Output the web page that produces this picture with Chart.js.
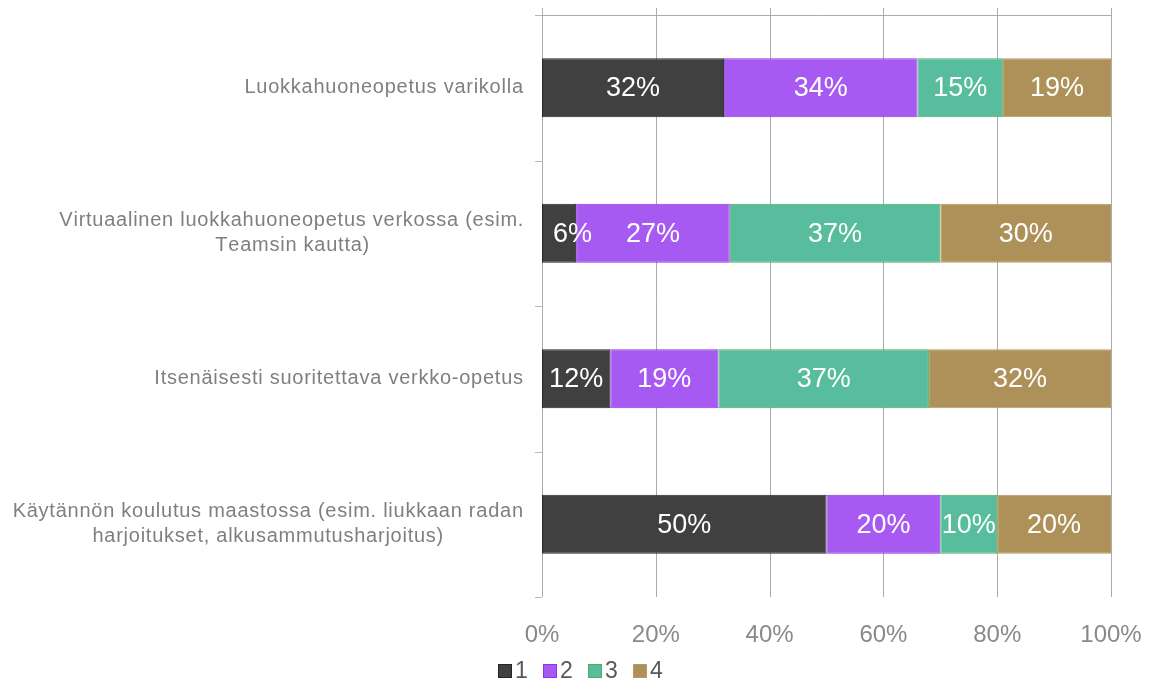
<!DOCTYPE html>
<html>
<head>
<meta charset="utf-8">
<script src="https://cdn.jsdelivr.net/npm/chart.js@4.4.1/dist/chart.umd.min.js"></script>
<style>
html,body{margin:0;padding:0;background:#fff;}
#wrap{width:1159px;height:682px;position:relative;}
</style>
</head>
<body>
<div id="wrap"><canvas id="c" width="1159" height="682"></canvas></div>
<script>
const categories = [
  ["Luokkahuoneopetus varikolla"],
  ["Virtuaalinen luokkahuoneopetus verkossa (esim.", "Teamsin kautta)"],
  ["Itsenäisesti suoritettava verkko-opetus"],
  ["Käytännön koulutus maastossa (esim. liukkaan radan", "harjoitukset, alkusammutusharjoitus)"]
];
const seriesNames = ["1", "2", "3", "4"];
const series1 = [32, 6, 12, 50];
const series2 = [34, 27, 19, 20];
const series3 = [15, 37, 37, 10];
const series4 = [19, 30, 32, 20];
const xTicks = [0, 20, 40, 60, 80, 100];

const fills = ["#404040", "#a65af2", "#57bd9c", "#ad9159"];
const borders = ["#262626", "#8e35e8", "#4caf5a", "#b89c62"];
const FONT = "'Liberation Sans', Arial, sans-serif";

const allSeries = [series1, series2, series3, series4];

const decor = {
  id: 'decor',
  beforeDatasetsDraw(chart) {
    const ctx = chart.ctx, xs = chart.scales.x, a = chart.chartArea;
    ctx.save();
    ctx.strokeStyle = '#ababab';
    ctx.lineWidth = 1;
    xTicks.forEach(v => {
      const px = Math.round(xs.getPixelForValue(v)) + 0.5;
      ctx.beginPath();
      ctx.moveTo(px, a.top - 7);
      ctx.lineTo(px, a.bottom);
      ctx.stroke();
    });
    ctx.beginPath();
    ctx.moveTo(a.left - 7, Math.round(a.top) + 0.5);
    ctx.lineTo(Math.round(xs.getPixelForValue(100)) + 0.5, Math.round(a.top) + 0.5);
    ctx.stroke();
    ctx.strokeStyle = '#b8b8b8';
    const n = categories.length;
    const step = (a.bottom - a.top) / n;
    for (let i = 0; i <= n; i++) {
      const py = Math.round(a.top + i * step) + 0.5;
      ctx.beginPath();
      ctx.moveTo(a.left - 7, py);
      ctx.lineTo(a.left, py);
      ctx.stroke();
    }
    ctx.restore();
  },
  afterDatasetsDraw(chart) {
    const ctx = chart.ctx, ys = chart.scales.y;
    ctx.save();
    // data labels
    ctx.font = "27px " + FONT;
    ctx.fillStyle = '#ffffff';
    ctx.textAlign = 'center';
    ctx.textBaseline = 'middle';
    chart.data.datasets.forEach((ds, di) => {
      const meta = chart.getDatasetMeta(di);
      meta.data.forEach((el, i) => {
        const txt = ds.data[i] + '%';
        const tw = ctx.measureText(txt).width;
        const bw = Math.abs(el.x - el.base);
        let cx = (el.x + el.base) / 2;
        if (tw > bw) cx = Math.min(el.x, el.base) + 11 + tw / 2;
        ctx.fillText(txt, cx, el.y + 1);
      });
    });
    // category labels
    ctx.font = "20px " + FONT;
    ctx.fillStyle = '#7f7f7f';
    ctx.textAlign = 'left';
    const sp = 0.75;
    const right = 523, lh = 25;
    const widthOf = l => ctx.measureText(l).width + sp * (l.length - 1);
    const drawSpaced = (l, x, y) => {
      let cx = x;
      for (const ch of l) {
        ctx.fillText(ch, cx, y);
        cx += ctx.measureText(ch).width + sp;
      }
    };
    categories.forEach((lines, i) => {
      const cy = ys.getPixelForValue(i);
      let maxW = 0;
      lines.forEach(l => { maxW = Math.max(maxW, widthOf(l)); });
      const mid = right - maxW / 2;
      const y0 = cy - (lines.length - 1) * lh / 2;
      lines.forEach((l, k) => drawSpaced(l, mid - widthOf(l) / 2, y0 + k * lh));
    });
    // legend
    ctx.font = "23px " + FONT;
    ctx.textAlign = 'left';
    const lx0 = 498, lstep = 45, ly = 671;
    seriesNames.forEach((nm, i) => {
      const x = lx0 + i * lstep;
      ctx.fillStyle = fills[i];
      ctx.fillRect(x, ly - 7, 14, 14);
      ctx.strokeStyle = borders[i];
      ctx.lineWidth = 1;
      ctx.strokeRect(x + 0.5, ly - 6.5, 13, 13);
      ctx.fillStyle = '#595959';
      ctx.fillText(nm, x + 17, ly + 1);
    });
    ctx.restore();
  }
};

new Chart(document.getElementById('c'), {
  type: 'bar',
  data: {
    labels: categories.map(c => c.join(' ')),
    datasets: seriesNames.map((nm, i) => ({
      label: nm,
      data: allSeries[i],
      backgroundColor: fills[i],
      borderColor: borders[i],
      borderWidth: 1,
      borderSkipped: false,
      categoryPercentage: 1,
      barPercentage: 0.405
    }))
  },
  options: {
    indexAxis: 'y',
    responsive: false,
    animation: false,
    layout: { padding: { top: 15, right: 48, left: 0, bottom: 0 } },
    plugins: { legend: { display: false }, tooltip: { enabled: false } },
    scales: {
      x: {
        stacked: true,
        min: 0, max: 100,
        ticks: { stepSize: 20, callback: v => v + '%', color: '#898989', font: { family: FONT, size: 24 }, padding: 16 },
        grid: { display: false },
        border: { display: false },
        afterFit: s => { s.height = 85; }
      },
      y: {
        stacked: true,
        ticks: { display: false },
        grid: { display: false },
        border: { display: false },
        afterFit: s => { s.width = 542; }
      }
    }
  },
  plugins: [decor]
});
</script>
</body>
</html>
